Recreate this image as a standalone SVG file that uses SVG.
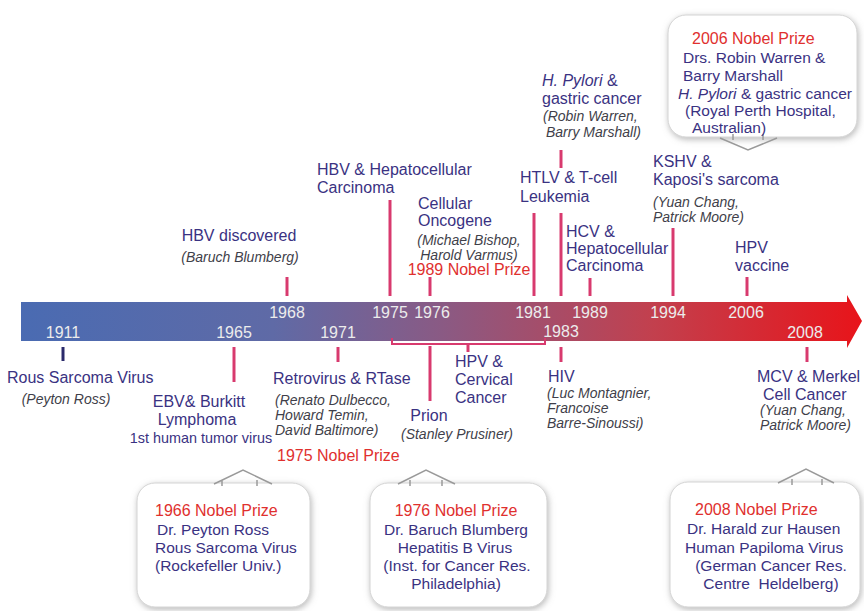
<svg xmlns="http://www.w3.org/2000/svg" width="864" height="611" viewBox="0 0 864 611">
<defs>
<linearGradient id="barGrad" x1="21" y1="0" x2="862" y2="0" gradientUnits="userSpaceOnUse">
<stop offset="0" stop-color="#4a6bb2"/>
<stop offset="0.3" stop-color="#5f6aa6"/>
<stop offset="0.5" stop-color="#8a5a84"/>
<stop offset="0.75" stop-color="#c2404e"/>
<stop offset="1" stop-color="#e8141a"/>
</linearGradient>
<filter id="shadow" x="-10%" y="-10%" width="120%" height="125%">
<feDropShadow dx="1" dy="2" stdDeviation="3" flood-color="#888" flood-opacity="0.6"/>
</filter>
</defs>
<style>
text{font-family:"Liberation Sans",Arial,sans-serif;}
.lbl{fill:#3a3282;font-size:16px;}
.it{fill:#3f3f4a;font-size:14px;font-style:italic;}
.red{fill:#e0302e;font-size:16px;}
.yr{fill:#ececec;font-size:16px;text-anchor:middle;}
.tick{stroke:#d83a6e;stroke-width:3;fill:none;}
.box{fill:#ffffff;stroke:#d4d4d4;stroke-width:1;filter:url(#shadow);}
.ptr{fill:none;stroke:#9a9a9a;stroke-width:1.5;}
.bl{fill:#3a3282;font-size:15.5px;}
.mid{text-anchor:middle;}
</style>
<rect width="864" height="611" fill="#ffffff"/>

<g id="timeline">
<path d="M21 302 H847 V295 L862 321 L847 348 V341 H21 Z" fill="url(#barGrad)"/>
<text class="yr" x="63" y="338">1911</text>
<text class="yr" x="234" y="338">1965</text>
<text class="yr" x="287" y="318">1968</text>
<text class="yr" x="338" y="338">1971</text>
<text class="yr" x="390" y="318">1975</text>
<text class="yr" x="432" y="318">1976</text>
<text class="yr" x="533" y="318">1981</text>
<text class="yr" x="561" y="337">1983</text>
<text class="yr" x="590" y="318">1989</text>
<text class="yr" x="668" y="318">1994</text>
<text class="yr" x="746" y="318">2006</text>
<text class="yr" x="805" y="338">2008</text>
</g>

<g id="connectors">
<line x1="63" y1="347" x2="63" y2="361" stroke="#2b2a6b" stroke-width="3"/>
<line class="tick" x1="234" y1="347" x2="234" y2="382"/>
<line class="tick" x1="338" y1="347" x2="338" y2="362"/>
<line class="tick" x1="430" y1="346" x2="430" y2="401"/>
<path d="M392 338 V344 H545 V338" fill="none" stroke="#d83a6e" stroke-width="2"/>
<line class="tick" x1="468" y1="344" x2="468" y2="352"/>
<line class="tick" x1="561" y1="347" x2="561" y2="362"/>
<line class="tick" x1="807" y1="347" x2="807" y2="362"/>
<line class="tick" x1="287" y1="277" x2="287" y2="296"/>
<line class="tick" x1="390" y1="200" x2="390" y2="296"/>
<line class="tick" x1="430" y1="277" x2="430" y2="296"/>
<line class="tick" x1="534" y1="213" x2="534" y2="296"/>
<line class="tick" x1="561" y1="150" x2="561" y2="168"/>
<line class="tick" x1="561" y1="213" x2="561" y2="296"/>
<line class="tick" x1="590" y1="278" x2="590" y2="296"/>
<line class="tick" x1="673" y1="228" x2="673" y2="296"/>
<line class="tick" x1="747" y1="277" x2="747" y2="296"/>
</g>

<g id="rsv">
<text class="lbl" x="7" y="383">Rous Sarcoma Virus</text>
<text class="it mid" x="66" y="404">(Peyton Ross)</text>
</g>
<g id="ebv">
<text class="lbl mid" x="199" y="407">EBV&amp; Burkitt</text>
<text class="lbl mid" x="197" y="425">Lymphoma</text>
<text class="mid" x="201" y="443" fill="#3a3282" font-size="14.4">1st human tumor virus</text>
</g>
<g id="hbv-discovered">
<text class="lbl mid" x="239" y="241">HBV discovered</text>
<text class="it mid" x="240" y="262">(Baruch Blumberg)</text>
</g>
<g id="retrovirus">
<text class="lbl" x="273" y="384">Retrovirus &amp; RTase</text>
<text class="it" x="275" y="405">(Renato Dulbecco,</text>
<text class="it" x="275" y="420">Howard Temin,</text>
<text class="it" x="275" y="435">David Baltimore)</text>
<text class="red" x="277" y="461">1975 Nobel Prize</text>
</g>
<g id="hbv-hcc">
<text class="lbl" x="317" y="175">HBV &amp; Hepatocellular</text>
<text class="lbl" x="317" y="193">Carcinoma</text>
</g>
<g id="oncogene">
<text class="lbl" x="418" y="209">Cellular</text>
<text class="lbl" x="418" y="226">Oncogene</text>
<text class="it mid" x="469" y="245" font-size="13.5">(Michael Bishop,</text>
<text class="it mid" x="469" y="259.5" font-size="13.5">Harold Varmus)</text>
<text class="red mid" x="469" y="275" font-size="15.5">1989 Nobel Prize</text>
</g>
<g id="prion">
<text class="lbl mid" x="429" y="421">Prion</text>
<text class="it mid" x="457" y="439" font-size="13.5">(Stanley Prusiner)</text>
</g>
<g id="hpv-cervical">
<text class="lbl" x="455" y="367">HPV &amp;</text>
<text class="lbl" x="455" y="385">Cervical</text>
<text class="lbl" x="455" y="403">Cancer</text>
</g>
<g id="htlv">
<text class="lbl" x="520" y="183">HTLV &amp; T-cell</text>
<text class="lbl" x="520" y="202">Leukemia</text>
</g>
<g id="hpylori">
<text class="lbl" x="542" y="86"><tspan font-style="italic">H. Pylori</tspan> &amp;</text>
<text class="lbl" x="542" y="104">gastric cancer</text>
<text class="it" x="543" y="121">(Robin Warren,</text>
<text class="it" x="546" y="137">Barry Marshall)</text>
</g>
<g id="hiv">
<text class="lbl" x="548" y="382">HIV</text>
<text class="it" x="547" y="398">(Luc Montagnier,</text>
<text class="it" x="547" y="413">Francoise</text>
<text class="it" x="547" y="428">Barre-Sinoussi)</text>
</g>
<g id="hcv">
<text class="lbl" x="566" y="237">HCV &amp;</text>
<text class="lbl" x="566" y="254">Hepatocellular</text>
<text class="lbl" x="566" y="271">Carcinoma</text>
</g>
<g id="kshv">
<text class="lbl" x="653" y="167">KSHV &amp;</text>
<text class="lbl" x="653" y="185">Kaposi's sarcoma</text>
<text class="it" x="653" y="207">(Yuan Chang,</text>
<text class="it" x="653" y="222">Patrick Moore)</text>
</g>
<g id="hpv-vaccine">
<text class="lbl" x="735" y="253">HPV</text>
<text class="lbl" x="735" y="271">vaccine</text>
</g>
<g id="mcv">
<text class="lbl" x="757" y="382">MCV &amp; Merkel</text>
<text class="lbl" x="763" y="400">Cell Cancer</text>
<text class="it" x="760" y="415">(Yuan Chang,</text>
<text class="it" x="760" y="430">Patrick Moore)</text>
</g>

<g id="nobel-1966">
<rect class="box" x="137" y="483" width="173" height="124" rx="18"/>
<path class="ptr" d="M214 484 L243 470 L272 484 M222 480 V486 M257 480 V486"/>
<text class="red" x="155" y="516">1966 Nobel Prize</text>
<text class="bl" x="157" y="535">Dr. Peyton Ross</text>
<text class="bl" x="155" y="553">Rous Sarcoma Virus</text>
<text class="bl" x="155" y="571">(Rockefeller Univ.)</text>
</g>
<g id="nobel-1976">
<rect class="box" x="370" y="483" width="177" height="124" rx="18"/>
<path class="ptr" d="M398 484 L426 470 L455 484 M410 480 V486 M442 480 V486"/>
<text class="red mid" x="456" y="516">1976 Nobel Prize</text>
<text class="bl mid" x="456" y="535">Dr. Baruch Blumberg</text>
<text class="bl mid" x="455" y="553">Hepatitis B Virus</text>
<text class="bl mid" x="457" y="571">(Inst. for Cancer Res.</text>
<text class="bl mid" x="456" y="589">Philadelphia)</text>
</g>
<g id="nobel-2008">
<rect class="box" x="670" y="482" width="190" height="125" rx="18"/>
<path class="ptr" d="M778 483 L806 469 L834 483 M792 479 V485 M822 479 V485"/>
<text class="red" x="695" y="515">2008 Nobel Prize</text>
<text class="bl" x="687" y="534">Dr. Harald zur Hausen</text>
<text class="bl" x="685" y="553">Human Papiloma Virus</text>
<text class="bl mid" x="771" y="571">(German Cancer Res.</text>
<text class="bl mid" x="771" y="589" xml:space="preserve">Centre  Heldelberg)</text>
</g>
<g id="nobel-2006">
<rect class="box" x="668" y="15" width="189" height="122" rx="18"/>
<path class="ptr" d="M720 138 L748 150 L777 138 M733 134 V140 M763 134 V140"/>
<text class="red" x="692" y="44">2006 Nobel Prize</text>
<text class="bl" x="683" y="63">Drs. Robin Warren &amp;</text>
<text class="bl" x="683" y="81">Barry Marshall</text>
<text class="bl" x="678" y="99"><tspan font-style="italic">H. Pylori</tspan> &amp; gastric cancer</text>
<text class="bl" x="685" y="116">(Royal Perth Hospital,</text>
<text class="bl" x="692" y="133">Australian)</text>
</g>
</svg>
